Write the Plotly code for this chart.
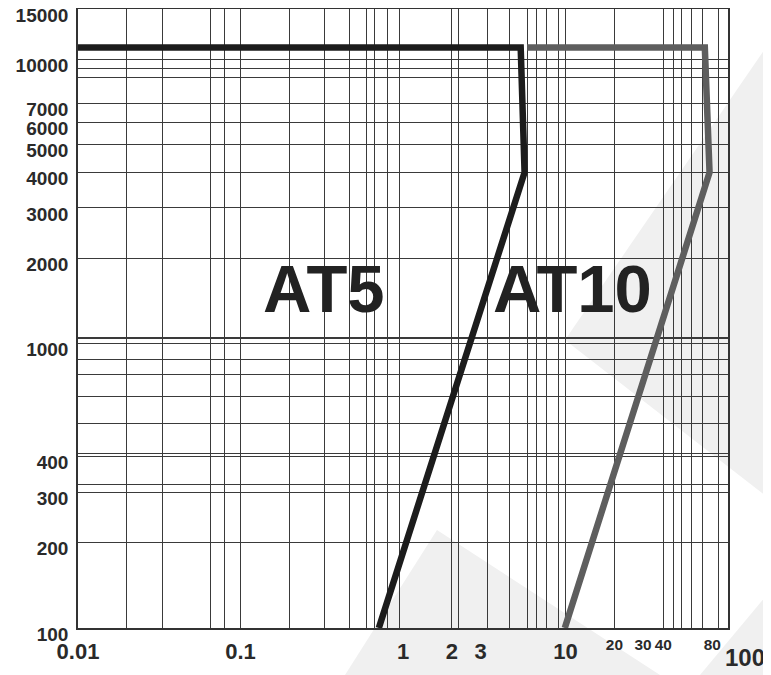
import math
import plotly.graph_objects as go

# ---- data ----
at5_current = [0.01, 5.3, 5.6, 0.71]        # x values (log axis)
at5_time = [11000, 11000, 4000, 100]         # y values (log axis)
at10_current = [5.8, 72, 77, 9.9]
at10_time = [11000, 11000, 4000, 100]

x_tick_vals = [0.01, 0.1, 1, 2, 3, 10, 20, 30, 40, 80]
x_tick_text = ["0.01", "0.1", "1", "2", "3", "10",
               "<sup>20</sup>", "<sup>30</sup>", "<sup>40</sup>", "<sup>80</sup>"]
x_end_label = "100"
y_tick_vals = [100, 200, 300, 400, 1000, 2000, 3000, 4000, 5000, 6000, 7000, 10000, 15000]
y_tick_text = ["100", "200", "300", "400", "1000", "2000", "3000", "4000",
               "5000", "6000", "7000", "10000", "15000"]

# grid lines as drawn on the chart paper
x_grid_vals = [0.02, 0.033, 0.065, 0.08, 0.1, 0.2, 0.33, 0.47, 0.6, 0.67, 0.8, 0.95,
               2, 2.2, 3.3, 4.5, 5.8, 6.6, 7.6, 9, 10, 20, 40, 46, 52, 60, 70, 87]
y_grid_vals = [200, 300, 320, 400, 410, 525, 650, 780, 880, 1000, 1040, 1050,
               2000, 3000, 4000, 5000, 6000, 7000, 8600, 9300, 10000]

fig = go.Figure()
fig.add_trace(go.Scatter(x=at5_current, y=at5_time, mode="lines", name="AT5",
                         line=dict(color="#1c1c1c", width=6.5), showlegend=False))
fig.add_trace(go.Scatter(x=at10_current, y=at10_time, mode="lines", name="AT10",
                         line=dict(color="#5e5e5e", width=6.5), showlegend=False))

# light watermark shapes (paper coords; plot area 650 x 619 px)
W, H = 650.0, 619.0
def px(x, y):
    return (x - 78) / W, (628 - y) / H

def poly(pts):
    p = [px(*q) for q in pts]
    return "M " + " L ".join(f"{a:.4f},{b:.4f}" for a, b in p) + " Z"

wm = [
    [(565, 340), (771, 40), (771, 500)],
    [(437, 530), (660, 675), (345, 675)],
    [(771, 590), (771, 675), (700, 675)],
]
shapes = [dict(type="path", path=poly(p), xref="paper", yref="paper",
               fillcolor="#f0f0f0", line=dict(width=0), layer="below") for p in wm]

fig.update_layout(
    width=771, height=675,
    margin=dict(l=70, r=51, t=1, b=55, autoexpand=False),
    paper_bgcolor="white", plot_bgcolor="rgba(0,0,0,0)",
    shapes=shapes,
    font=dict(family="Liberation Sans, Arial, sans-serif", color="#2a2a2a"),
    annotations=[
        dict(text="AT5", xref="paper", yref="paper", x=0.378, y=0.548,
             xanchor="center", yanchor="middle",
             showarrow=False, font=dict(size=67, weight="bold", color="#222222")),
        dict(text="AT10", xref="paper", yref="paper", x=0.760, y=0.548,
             xanchor="center", yanchor="middle",
             showarrow=False, font=dict(size=67, weight="bold", color="#222222")),
        dict(text=x_end_label, xref="paper", yref="paper", x=1.026, y=-0.048,
             xanchor="center", yanchor="middle",
             showarrow=False, font=dict(size=24, weight="bold", color="#2a2a2a")),
    ],
)
fig.update_xaxes(
    type="log", range=[-2, 2], automargin=False,
    tickmode="array", tickvals=x_tick_vals, ticktext=x_tick_text, tickangle=0,
    tickfont=dict(size=22, weight="bold", color="#2a2a2a"),
    showgrid=False, zeroline=False, ticks="", ticklabelstandoff=3,
    showline=True, mirror=True, linecolor="#333333", linewidth=1.5,
    minor=dict(tickmode="array", tickvals=x_grid_vals, showgrid=True,
               gridcolor="#3a3a3a", gridwidth=1, ticks=""),
)
fig.update_yaxes(
    type="log", range=[2, math.log10(15000) + 0.0005], automargin=False,
    tickmode="array", tickvals=y_tick_vals, ticktext=y_tick_text,
    tickfont=dict(size=19, weight="bold", color="#2a2a2a"),
    showgrid=False, zeroline=False, ticks="", ticklabelstandoff=4,
    ticklabelshift=6, ticklabeloverflow="allow",
    showline=True, mirror=True, linecolor="#333333", linewidth=1.5,
    minor=dict(tickmode="array", tickvals=y_grid_vals, showgrid=True,
               gridcolor="#3a3a3a", gridwidth=1, ticks=""),
)

fig.write_html("out.html")
